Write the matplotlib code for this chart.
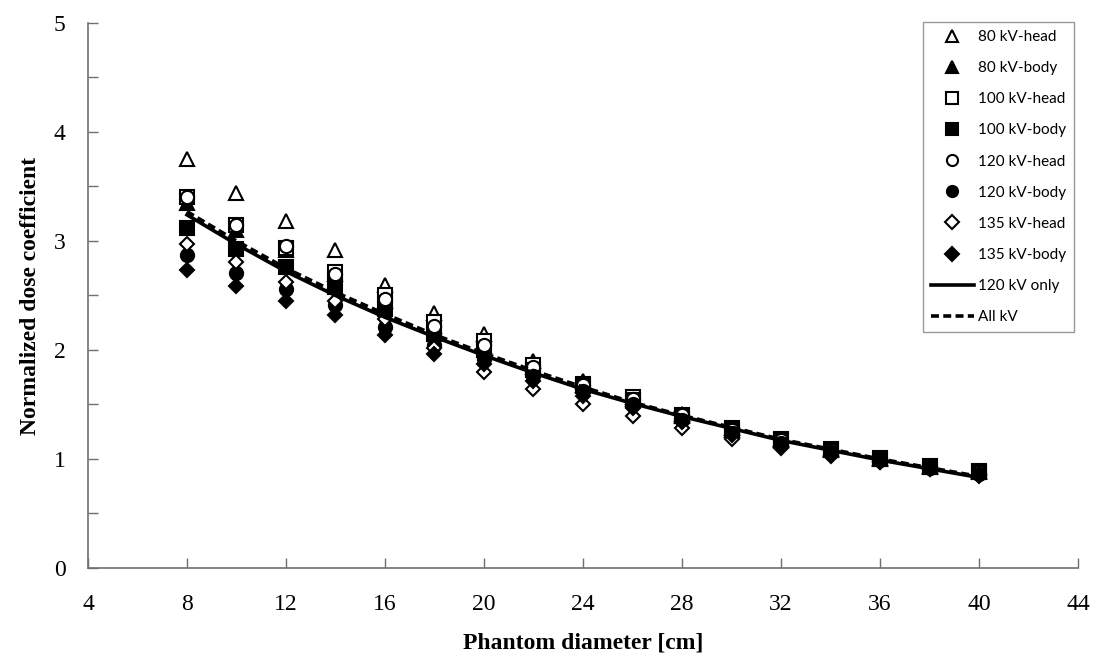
import matplotlib.pyplot as plt

# phantom diameters [cm]
diameters = [8, 10, 12, 14, 16, 18, 20, 22, 24, 26, 28, 30, 32, 34, 36, 38, 40]

# normalized dose coefficients
kv80_head = [3.75, 3.44, 3.18, 2.92, 2.60, 2.34, 2.15, 1.90, 1.72, 1.57, 1.41, 1.28, 1.18, 1.09, 1.01, 0.94, 0.89]
kv80_body = [3.35, 3.10, 2.92, 2.70, 2.45, 2.22, 2.04, 1.84, 1.68, 1.55, 1.39, 1.27, 1.17, 1.08, 1.00, 0.93, 0.88]
kv100_head = [3.40, 3.15, 2.94, 2.72, 2.50, 2.26, 2.08, 1.86, 1.69, 1.57, 1.40, 1.28, 1.18, 1.09, 1.01, 0.94, 0.89]
kv100_body = [3.12, 2.93, 2.76, 2.58, 2.38, 2.15, 2.00, 1.82, 1.67, 1.54, 1.39, 1.27, 1.17, 1.08, 1.00, 0.93, 0.88]
kv120_head = [3.40, 3.15, 2.95, 2.70, 2.47, 2.22, 2.05, 1.84, 1.68, 1.55, 1.40, 1.27, 1.17, 1.08, 1.00, 0.93, 0.88]
kv120_body = [2.87, 2.71, 2.56, 2.41, 2.21, 2.05, 1.92, 1.76, 1.62, 1.50, 1.36, 1.24, 1.15, 1.06, 0.99, 0.92, 0.86]
kv135_head = [2.97, 2.81, 2.62, 2.45, 2.28, 2.02, 1.80, 1.64, 1.50, 1.39, 1.28, 1.18, 1.10, 1.03, 0.97, 0.91, 0.84]
kv135_body = [2.73, 2.59, 2.45, 2.32, 2.14, 1.96, 1.87, 1.72, 1.58, 1.47, 1.34, 1.22, 1.12, 1.04, 0.97, 0.91, 0.85]

# fitted curves
fit_120 = [3.24, 2.97, 2.72, 2.50, 2.30, 2.12, 1.95, 1.79, 1.64, 1.51, 1.39, 1.28, 1.17, 1.08, 0.99, 0.91, 0.83]
fit_all = [3.27, 3.00, 2.75, 2.53, 2.33, 2.14, 1.97, 1.81, 1.66, 1.52, 1.40, 1.29, 1.18, 1.09, 1.00, 0.92, 0.84]

series = [
    ("80 kV-head", kv80_head, "^", "white"),
    ("80 kV-body", kv80_body, "^", "black"),
    ("100 kV-head", kv100_head, "s", "white"),
    ("100 kV-body", kv100_body, "s", "black"),
    ("120 kV-head", kv120_head, "o", "white"),
    ("120 kV-body", kv120_body, "o", "black"),
    ("135 kV-head", kv135_head, "D", "white"),
    ("135 kV-body", kv135_body, "D", "black"),
]

fig = plt.figure(figsize=(11.05, 6.57), dpi=100)
ax = fig.add_axes([0.0796, 0.1355, 0.896, 0.8295])

for label, vals, mk, fc in series:
    ms = 7.5 if mk == "D" else 9.5
    ax.plot(diameters, vals, linestyle="none", marker=mk, markersize=ms,
            markerfacecolor=fc, markeredgecolor="black", markeredgewidth=1.5,
            label=label, zorder=3)

ax.plot(diameters, fit_120, color="black", linewidth=2.6, label="120 kV only", zorder=4)
ax.plot(diameters, fit_all, color="black", linewidth=2.6, linestyle=(0, (2.2, 1.2)),
        label="All kV", zorder=4)

ax.set_xlim(4, 44)
ax.set_ylim(0, 5)
ax.set_xticks(range(4, 45, 4))
ax.set_yticks(range(0, 6))
ax.set_yticks([0.5, 1.5, 2.5, 3.5, 4.5], minor=True)

for s in ["top", "right"]:
    ax.spines[s].set_visible(False)
for s in ["left", "bottom"]:
    ax.spines[s].set_color("#707070")
    ax.spines[s].set_linewidth(1.2)

ax.tick_params(which="both", direction="in", length=7, width=1, color="#707070")
ax.tick_params(axis="y", pad=16)
ax.tick_params(axis="x", pad=19)
for t in ax.get_xticklabels() + ax.get_yticklabels():
    t.set_fontfamily("Liberation Serif")
    t.set_fontsize(17)

ax.set_xlabel("Phantom diameter [cm]", fontfamily="Liberation Serif",
              fontweight="bold", fontsize=17, labelpad=12)
ax.set_ylabel("Normalized dose coefficient", fontfamily="Liberation Serif",
              fontweight="bold", fontsize=17, labelpad=9)

leg = ax.legend(loc="upper right", bbox_to_anchor=(0.996, 1.001), frameon=True,
                fancybox=False, edgecolor="#808080", handlelength=2.8,
                labelspacing=1.12, borderpad=0.5, handletextpad=0.3,
                borderaxespad=0, prop={"family": "Lato", "size": 11})
leg.get_frame().set_linewidth(1.0)
for h in leg.legend_handles[:8]:
    h.set_markersize(7 if h.get_marker() == "D" else 8)

fig.savefig("out.png", dpi=100)
